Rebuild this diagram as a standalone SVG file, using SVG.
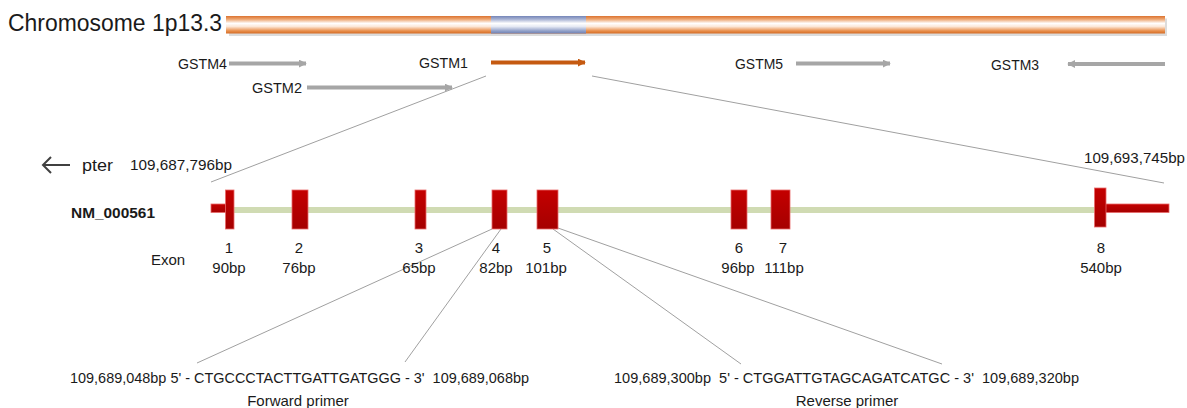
<svg xmlns="http://www.w3.org/2000/svg" width="1187" height="408" viewBox="0 0 1187 408">
<defs>
<linearGradient id="gOr" x1="0" y1="0" x2="0" y2="1">
<stop offset="0" stop-color="#dc7330"/>
<stop offset="0.18" stop-color="#eda46e"/>
<stop offset="0.42" stop-color="#ffffff"/>
<stop offset="0.6" stop-color="#fce8d8"/>
<stop offset="0.85" stop-color="#e98f4c"/>
<stop offset="1" stop-color="#d46c26"/>
</linearGradient>
<linearGradient id="gBl" x1="0" y1="0" x2="0" y2="1">
<stop offset="0" stop-color="#7586b8"/>
<stop offset="0.18" stop-color="#a5b0d2"/>
<stop offset="0.42" stop-color="#ffffff"/>
<stop offset="0.6" stop-color="#e6eaf4"/>
<stop offset="0.85" stop-color="#91a0c8"/>
<stop offset="1" stop-color="#6f80b2"/>
</linearGradient>
<linearGradient id="gEx" x1="0" y1="0" x2="0" y2="1">
<stop offset="0" stop-color="#c40000"/>
<stop offset="1" stop-color="#a50000"/>
</linearGradient>
<marker id="ahG" viewBox="0 0 10 10" refX="9" refY="5" markerWidth="8" markerHeight="8" markerUnits="userSpaceOnUse" orient="auto">
<path d="M0,0 L10,5 L0,10 Z" fill="#a6a6a6"/>
</marker>
<marker id="ahO" viewBox="0 0 10 10" refX="9" refY="5" markerWidth="8" markerHeight="8" markerUnits="userSpaceOnUse" orient="auto">
<path d="M0,0 L10,5 L0,10 Z" fill="#c55a11"/>
</marker>
</defs>
<style>
text{font-family:"Liberation Sans",Arial,sans-serif;fill:#1a1a1a}
.t14{font-size:15px}
.t15{font-size:15px}
.garrow{stroke:#a6a6a6;stroke-width:4;fill:none;marker-end:url(#ahG)}
.zoom{stroke:#a0a0a0;stroke-width:1;fill:none}
.exon{fill:url(#gEx);stroke:#e86a6a;stroke-width:0.8}
.lbl{font-size:15px;text-anchor:middle}
</style>
<rect width="1187" height="408" fill="#ffffff"/>

<g id="chromosome">
<text x="8" y="31" style="font-size:23px" textLength="214" lengthAdjust="spacingAndGlyphs">Chromosome 1p13.3</text>
<rect x="229" y="18.5" width="938" height="17.5" fill="#dcdcdc"/>
<rect x="226" y="16" width="939" height="17.5" fill="url(#gOr)"/>
<rect x="491" y="16" width="95" height="17.5" fill="url(#gBl)"/>
</g>

<g id="GSTM4">
<text class="t14" x="178" y="68.5" textLength="49" lengthAdjust="spacingAndGlyphs">GSTM4</text>
<line class="garrow" x1="229" y1="63.5" x2="306" y2="63.5"/>
</g>
<g id="GSTM2">
<text class="t14" x="252" y="92.5" textLength="50" lengthAdjust="spacingAndGlyphs">GSTM2</text>
<line class="garrow" x1="307" y1="87.5" x2="452" y2="87.5"/>
</g>
<g id="GSTM1">
<text class="t14" x="419" y="67.5" textLength="49" lengthAdjust="spacingAndGlyphs">GSTM1</text>
<line x1="491" y1="62.5" x2="585" y2="62.5" stroke="#c55a11" stroke-width="4" marker-end="url(#ahO)"/>
</g>
<g id="GSTM5">
<text class="t14" x="735" y="68.5" textLength="48" lengthAdjust="spacingAndGlyphs">GSTM5</text>
<line class="garrow" x1="796" y1="63.5" x2="890" y2="63.5"/>
</g>
<g id="GSTM3">
<text class="t14" x="991" y="69.5" textLength="48" lengthAdjust="spacingAndGlyphs">GSTM3</text>
<line class="garrow" x1="1165" y1="64" x2="1068" y2="64"/>
</g>

<g id="connectors">
<line class="zoom" x1="486" y1="76" x2="211" y2="182"/>
<line class="zoom" x1="592" y1="76" x2="1164" y2="183"/>
<line class="zoom" x1="492" y1="229" x2="197" y2="363"/>
<line class="zoom" x1="501" y1="229" x2="405" y2="362"/>
<line class="zoom" x1="553" y1="229" x2="741" y2="364"/>
<line class="zoom" x1="558" y1="228" x2="942" y2="364"/>
</g>

<g id="pter">
<path d="M43,165 H70 M51,157 L43,165 L51,173" stroke="#404040" stroke-width="2" fill="none"/>
<text x="82" y="170.5" style="font-size:16px" textLength="31" lengthAdjust="spacingAndGlyphs">pter</text>
<text class="t15" x="130" y="170" textLength="102" lengthAdjust="spacingAndGlyphs">109,687,796bp</text>
<text class="t15" x="1084" y="163" textLength="101" lengthAdjust="spacingAndGlyphs">109,693,745bp</text>
</g>

<g id="transcript">
<text x="71" y="218" style="font-size:15px;font-weight:bold" textLength="84" lengthAdjust="spacingAndGlyphs">NM_000561</text>
<rect x="226" y="207" width="870" height="6" fill="#d0dbb3"/>
<rect class="exon" x="211" y="204" width="16" height="8.5"/>
<rect class="exon" x="225.5" y="190" width="8.5" height="39"/>
<rect class="exon" x="292" y="190" width="16" height="39"/>
<rect class="exon" x="415" y="190" width="11" height="39"/>
<rect class="exon" x="492" y="190" width="15" height="39"/>
<rect class="exon" x="537" y="190" width="21" height="39"/>
<rect class="exon" x="731" y="190" width="16" height="39"/>
<rect class="exon" x="771" y="190" width="19" height="39"/>
<rect class="exon" x="1105" y="204" width="64" height="8.5"/>
<rect class="exon" x="1094.5" y="188" width="11.5" height="39"/>
</g>

<g id="exon-labels">
<text class="t15" x="151" y="265">Exon</text>
<text class="lbl" x="229" y="253">1</text><text class="lbl" x="229" y="273">90bp</text>
<text class="lbl" x="299" y="253">2</text><text class="lbl" x="299" y="273">76bp</text>
<text class="lbl" x="419" y="253">3</text><text class="lbl" x="419" y="273">65bp</text>
<text class="lbl" x="496" y="253">4</text><text class="lbl" x="496" y="273">82bp</text>
<text class="lbl" x="547" y="253">5</text><text class="lbl" x="546" y="273">101bp</text>
<text class="lbl" x="739" y="253">6</text><text class="lbl" x="738" y="273">96bp</text>
<text class="lbl" x="783" y="253">7</text><text class="lbl" x="784" y="273">111bp</text>
<text class="lbl" x="1101" y="253">8</text><text class="lbl" x="1101" y="273">540bp</text>
</g>

<g id="forward-primer">
<text class="t15" x="70" y="383" textLength="459" lengthAdjust="spacingAndGlyphs">109,689,048bp 5' - CTGCCCTACTTGATTGATGGG - 3'&#160; 109,689,068bp</text>
<text class="lbl" x="298" y="406">Forward primer</text>
</g>
<g id="reverse-primer">
<text class="t15" x="614" y="383" textLength="465" lengthAdjust="spacingAndGlyphs">109,689,300bp&#160; 5' - CTGGATTGTAGCAGATCATGC - 3'&#160; 109,689,320bp</text>
<text class="lbl" x="847" y="406">Reverse primer</text>
</g>
</svg>
